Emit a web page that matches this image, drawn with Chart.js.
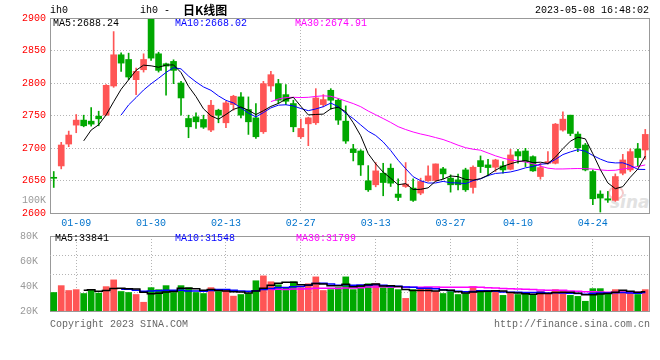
<!DOCTYPE html>
<html>
<head>
<meta charset="utf-8">
<script src="https://cdn.jsdelivr.net/npm/chart.js@4.4.0/dist/chart.umd.min.js"></script>
<style>
  html, body { margin: 0; padding: 0; background: #fff; }
  #wrap { position: relative; width: 660px; height: 360px; overflow: hidden;
          font-family: "Liberation Mono", "DejaVu Sans Mono", monospace; font-size: 10px; color: #000; }
  canvas { position: absolute; left: 0; }
  #kline { top: 0; }
  #vol { top: 226px; }
  .t { position: absolute; white-space: pre; line-height: 10px; }
  .logo { position: absolute; left: 610px; top: 192px; font: italic bold 17px "DejaVu Sans", sans-serif; color: #e2e2e2; }
  .eye { position: absolute; left: 608px; top: 186px; width: 12px; height: 10px; border-radius: 50%;
         border: 2px solid #f6c8c8; }
</style>
</head>
<body>
<div id="wrap">
  <div class="eye"></div>
  <div class="logo">sina</div>
  <canvas id="kline" width="660" height="232"></canvas>
  <canvas id="vol" width="660" height="134"></canvas>

  <div class="t" style="left:50px;top:6px;">ih0</div>
  <div class="t" style="left:140px;top:6px;">ih0 -</div>
  <div class="t" style="left:183px;top:4px;font:bold 12px 'Noto Sans CJK SC';line-height:12px;">日K线图</div>
  <div class="t" style="right:11px;top:6px;">2023-05-08 16:48:02</div>

  <div class="t" style="left:53px;top:19px;">MA5:2688.24</div>
  <div class="t" style="left:175px;top:19px;color:#0000ff;">MA10:2668.02</div>
  <div class="t" style="left:295px;top:19px;color:#ff00ff;">MA30:2674.91</div>

  <div class="t" style="right:614px;top:196px;color:#999;">100K</div>

  <div class="t" style="left:55px;top:234px;">MA5:33841</div>
  <div class="t" style="left:175px;top:234px;color:#0000ff;">MA10:31548</div>
  <div class="t" style="left:296px;top:234px;color:#ff00ff;">MA30:31799</div>

  <div class="t" style="left:50px;top:320px;color:#666;">Copyright 2023 SINA.COM</div>
  <div class="t" style="right:10px;top:320px;color:#666;">http://finance.sina.com.cn</div>
</div>
<script>
// trading days shown (80 sessions)
const dates = [
  '01-04','01-05','01-06','01-09','01-10','01-11','01-12','01-13','01-16','01-17',
  '01-18','01-19','01-20','01-30','01-31','02-01','02-02','02-03','02-06','02-07',
  '02-08','02-09','02-10','02-13','02-14','02-15','02-16','02-17','02-20','02-21',
  '02-22','02-23','02-24','02-27','02-28','03-01','03-02','03-03','03-06','03-07',
  '03-08','03-09','03-10','03-13','03-14','03-15','03-16','03-17','03-20','03-21',
  '03-22','03-23','03-24','03-27','03-28','03-29','03-30','03-31','04-03','04-04',
  '04-06','04-07','04-10','04-11','04-12','04-13','04-14','04-17','04-18','04-19',
  '04-20','04-21','04-24','04-25','04-26','04-27','04-28','05-04','05-05','05-08'
];
const tickDates = ['01-09','01-30','02-13','02-27','03-13','03-27','04-10','04-24'];

const opens = [
  2653.6,2672.4,2706.1,2735.2,2742.9,2741.3,2749.0,2750.5,2795.4,2843.4,
  2836.2,2805.1,2820.4,2902.0,2844.9,2829.6,2833.2,2800.0,2745.4,2748.0,
  2743.9,2727.6,2758.2,2738.8,2766.8,2778.6,2759.2,2746.4,2725.0,2795.4,
  2799.0,2782.1,2768.4,2717.3,2737.2,2738.8,2766.8,2788.8,2773.5,2741.3,
  2698.5,2695.4,2649.5,2643.4,2661.2,2668.9,2629.1,2640.8,2638.3,2630.6,
  2649.5,2650.0,2667.9,2653.6,2651.0,2666.3,2639.3,2680.6,2674.0,2670.4,
  2672.4,2667.3,2694.4,2695.4,2686.7,2656.1,2676.5,2676.5,2727.6,2750.5,
  2721.4,2704.6,2663.8,2629.1,2621.9,2619.4,2661.2,2666.3,2698.5,2696.9
];
const highs = [
  2663.8,2708.7,2726.0,2751.5,2750.5,2762.2,2756.6,2797.4,2879.1,2846.4,
  2845.9,2823.0,2844.9,2910.0,2847.4,2830.6,2835.7,2802.6,2750.5,2754.1,
  2750.5,2773.5,2759.7,2771.9,2781.1,2785.2,2778.6,2768.4,2802.6,2817.9,
  2805.6,2797.4,2773.5,2744.4,2747.4,2791.3,2782.1,2791.3,2776.0,2764.8,
  2705.6,2697.4,2672.9,2677.6,2676.5,2675.5,2652.5,2677.6,2652.5,2653.6,
  2672.4,2675.5,2670.4,2658.7,2659.7,2668.9,2672.4,2687.8,2682.7,2682.7,
  2679.1,2697.9,2697.9,2699.5,2687.8,2676.5,2694.4,2737.8,2755.6,2750.5,
  2725.0,2707.1,2666.3,2634.2,2633.2,2660.2,2690.3,2698.5,2707.1,2728.6
];
const lows = [
  2639.3,2667.9,2702.0,2723.5,2732.6,2733.7,2734.2,2750.0,2793.4,2817.9,
  2805.1,2782.1,2816.8,2834.7,2816.8,2781.1,2799.0,2750.5,2715.8,2730.1,
  2730.1,2725.0,2738.8,2731.1,2758.2,2746.4,2720.9,2714.8,2722.4,2787.2,
  2768.4,2766.8,2725.0,2714.8,2703.6,2736.2,2763.3,2759.7,2736.2,2707.1,
  2680.1,2657.7,2633.2,2640.3,2626.5,2640.8,2618.9,2639.3,2617.9,2628.1,
  2648.5,2648.5,2652.5,2632.1,2635.7,2633.2,2630.6,2662.2,2657.1,2663.8,
  2661.2,2666.3,2676.5,2671.4,2663.8,2652.0,2675.0,2675.5,2726.0,2718.9,
  2694.4,2664.8,2612.7,2601.5,2616.3,2617.9,2658.7,2663.8,2671.4,2682.7
];
const closes = [
  2653.4,2704.6,2719.9,2742.9,2734.2,2736.7,2744.9,2796.4,2843.4,2830.6,
  2809.2,2817.9,2836.2,2838.3,2819.4,2826.0,2819.4,2777.0,2732.6,2740.3,
  2732.1,2765.8,2750.5,2769.4,2779.6,2750.5,2740.3,2717.3,2799.0,2812.8,
  2773.5,2771.9,2732.6,2730.1,2746.4,2777.0,2774.5,2773.5,2742.9,2710.7,
  2692.9,2674.0,2635.7,2664.8,2646.9,2645.9,2624.0,2644.4,2619.4,2648.5,
  2657.1,2675.5,2660.2,2643.4,2643.4,2635.7,2670.4,2671.4,2669.9,2681.6,
  2666.3,2689.3,2687.8,2679.1,2664.8,2669.9,2679.1,2736.7,2744.4,2722.4,
  2700.5,2666.3,2621.9,2623.0,2619.9,2656.1,2681.6,2694.4,2685.3,2720.9
];
// volume in lots
const volumes = [
  34800,40300,36400,37100,34000,37100,34300,39500,44900,35600,
  34800,33200,27000,38700,37100,40300,34800,40300,38700,34800,
  34000,38700,35600,37100,31900,33200,34000,44200,48100,43400,
  41000,38700,43400,38700,41800,47300,36400,37100,38700,47300,
  37100,40300,41800,41800,38700,38700,37100,30100,37100,38700,
  38700,35600,34000,35600,33200,34000,39500,35600,36400,35600,
  32500,34000,33200,34000,33200,35600,34000,37100,35600,32500,
  31700,27800,37900,37900,34800,37100,35600,34000,33200,37100
];
const priceTicks = [2600, 2650, 2700, 2750, 2800, 2850, 2900];
const volTicks = [20000, 40000, 60000, 80000];

const RED = '#ff5555', GREEN = '#00a800';
const GRID = '#b4b4b4', AXIS = '#999999';

function movingAvg(arr, n) {
  return arr.map((v, i) => i < n - 1 ? null :
    arr.slice(i - n + 1, i + 1).reduce((a, b) => a + b, 0) / n);
}

const colors = closes.map((c, i) => c >= opens[i] ? RED : GREEN);
const bodies = opens.map((o, i) => [o, closes[i]]);
const wicks = lows.map((l, i) => [l, highs[i]]);

Chart.defaults.font.family = '"Liberation Mono", "DejaVu Sans Mono", monospace';
Chart.defaults.font.size = 10;
Chart.defaults.animation = false;

const xGridColor = ctx => tickDates.includes(dates[ctx.index]) ? GRID : 'rgba(0,0,0,0)';

// frame on top/right sides of the plot, optional dotted quarter lines, optional swatch
const frame = {
  id: 'frame',
  beforeDatasetsDraw(chart, args, opts) {
    if (!opts.quarters) return;
    const { ctx, chartArea: a } = chart;
    ctx.save();
    ctx.strokeStyle = GRID;
    ctx.setLineDash([1, 2]);
    ctx.beginPath();
    for (let k = 1; k < 4; k++) {
      const y = Math.round(a.top + (a.bottom - a.top) * k / 4) + 0.5;
      ctx.moveTo(a.left, y);
      ctx.lineTo(a.right, y);
    }
    ctx.stroke();
    ctx.restore();
  },
  afterDraw(chart, args, opts) {
    const { ctx, chartArea: a } = chart;
    ctx.save();
    ctx.strokeStyle = AXIS;
    ctx.lineWidth = 1;
    ctx.beginPath();
    ctx.moveTo(Math.round(a.right) + 0.5, a.top);
    ctx.lineTo(Math.round(a.right) + 0.5, a.bottom);
    ctx.moveTo(a.left, Math.round(a.top) + 0.5);
    ctx.lineTo(a.right, Math.round(a.top) + 0.5);
    ctx.stroke();
    if (opts.swatch) {
      // colour of the latest session next to the MA legend
      ctx.fillStyle = opts.swatch;
      ctx.fillRect(148, 19, 6, 10);
    }
    ctx.restore();
  }
};

new Chart(document.getElementById('kline'), {
  type: 'bar',
  data: {
    labels: dates,
    datasets: [
      { type: 'line', data: movingAvg(closes, 5), borderColor: '#000000', borderWidth: 1, pointRadius: 0, order: 0 },
      { type: 'line', data: movingAvg(closes, 10), borderColor: '#0000ff', borderWidth: 1, pointRadius: 0, order: 0 },
      { type: 'line', data: movingAvg(closes, 30), borderColor: '#ff00ff', borderWidth: 1, pointRadius: 0, order: 0 },
      { data: bodies, backgroundColor: colors, barThickness: 6, minBarLength: 1, grouped: false, order: 1 },
      { data: wicks, backgroundColor: colors, barThickness: 1, grouped: false, order: 2 }
    ]
  },
  options: {
    responsive: false,
    devicePixelRatio: 1,
    layout: { padding: { top: 18, right: 11, left: 0, bottom: 0 } },
    plugins: { legend: { display: false }, tooltip: { enabled: false }, frame: { quarters: false, swatch: GREEN } },
    scales: {
      x: {
        offset: true,
        grid: { offset: false, color: xGridColor, drawTicks: false },
        border: { color: AXIS, dash: [1, 2] },
        ticks: {
          autoSkip: false, maxRotation: 0, color: '#0073cc', padding: 4,
          callback: (v, i) => tickDates.includes(dates[i]) ? dates[i] : null
        },
        afterFit: s => { s.height = 19; }
      },
      y: {
        min: priceTicks[0], max: priceTicks[priceTicks.length - 1],
        afterBuildTicks: s => { s.ticks = priceTicks.map(v => ({ value: v })); },
        grid: { color: GRID, drawTicks: false },
        border: { color: AXIS, dash: [1, 2] },
        ticks: { color: '#ff0000', padding: 4, callback: v => String(v) },
        afterFit: s => { s.width = 50; }
      }
    }
  },
  plugins: [frame]
});

new Chart(document.getElementById('vol'), {
  type: 'bar',
  data: {
    labels: dates,
    datasets: [
      { type: 'line', data: movingAvg(volumes, 5), borderColor: '#000000', borderWidth: 1.5, stepped: 'middle', pointRadius: 0, order: 0 },
      { type: 'line', data: movingAvg(volumes, 10), borderColor: '#0000ff', borderWidth: 1.5, stepped: 'middle', pointRadius: 0, order: 0 },
      { type: 'line', data: movingAvg(volumes, 30), borderColor: '#ff00ff', borderWidth: 1.5, stepped: 'middle', pointRadius: 0, order: 0 },
      { data: volumes, backgroundColor: colors, barThickness: 6, order: 1 }
    ]
  },
  options: {
    responsive: false,
    devicePixelRatio: 1,
    layout: { padding: { top: 8, right: 11, left: 0, bottom: 0 } },
    plugins: { legend: { display: false }, tooltip: { enabled: false }, frame: { quarters: true } },
    scales: {
      x: {
        offset: true,
        grid: { offset: false, color: xGridColor, drawTicks: false },
        border: { color: AXIS, dash: [1, 2] },
        ticks: { display: false },
        afterFit: s => { s.height = 49; }
      },
      y: {
        min: volTicks[0], max: volTicks[volTicks.length - 1],
        afterBuildTicks: s => { s.ticks = volTicks.map(v => ({ value: v })); },
        grid: { display: false },
        border: { color: AXIS },
        ticks: { color: '#999999', padding: 4, callback: v => (v / 1000) + 'K' },
        afterFit: s => { s.width = 50; }
      }
    }
  },
  plugins: [frame]
});
</script>
</body>
</html>
